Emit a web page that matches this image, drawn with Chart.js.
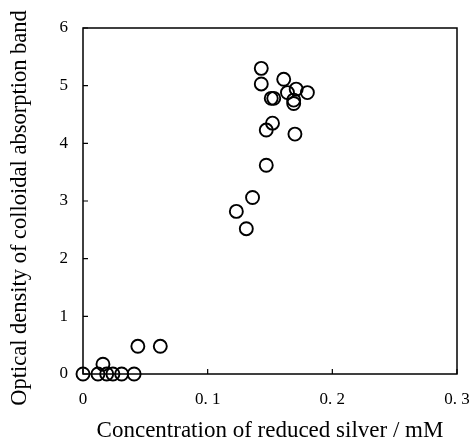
<!DOCTYPE html>
<html>
<head>
<meta charset="utf-8">
<script src="https://cdn.jsdelivr.net/npm/chart.js@4"></script>
<style>
html,body{margin:0;padding:0;background:#fff;}
#wrap{width:472px;height:442px;}
</style>
</head>
<body>
<div id="wrap"><canvas id="c" width="472" height="442"></canvas></div>
<script>
const concentration = [0, 0.012, 0.019, 0.024, 0.031, 0.041, 0.016, 0.044, 0.062, 0.123, 0.131, 0.136, 0.147, 0.147, 0.152, 0.170, 0.143, 0.143, 0.161, 0.151, 0.153, 0.164, 0.171, 0.169, 0.169, 0.180];
const opticalDensity = [0, 0, 0, 0, 0, 0, 0.17, 0.48, 0.48, 2.82, 2.52, 3.06, 3.62, 4.23, 4.35, 4.16, 5.30, 5.03, 5.11, 4.78, 4.78, 4.88, 4.94, 4.75, 4.69, 4.88];
const xTickValues = [0, 0.1, 0.2, 0.3];
const xTickLabels = ['0', '0. 1', '0. 2', '0. 3'];
const yTickValues = [0, 1, 2, 3, 4, 5, 6];
const yTickLabels = ['0', '1', '2', '3', '4', '5', '6'];
const xTitle = 'Concentration of reduced silver / mM';
const yTitle = 'Optical density of colloidal absorption band';

const FONT = '"Liberation Serif", "DejaVu Serif", serif';

const frame = {
  id: 'frame',
  afterDraw(chart) {
    const {ctx, chartArea: a, scales} = chart;
    ctx.save();
    ctx.strokeStyle = '#000';
    ctx.lineWidth = 1.5;
    ctx.strokeRect(a.left, a.top, a.right - a.left, a.bottom - a.top);
    ctx.lineWidth = 1.2;
    ctx.beginPath();
    xTickValues.forEach(v => {
      const px = scales.x.getPixelForValue(v);
      ctx.moveTo(px, a.bottom); ctx.lineTo(px, a.bottom - 5);
    });
    yTickValues.forEach(v => {
      const py = scales.y.getPixelForValue(v);
      ctx.moveTo(a.left, py); ctx.lineTo(a.left + 5, py);
    });
    ctx.stroke();
    // y-axis title (slightly below the plot-area centre, as in the reference)
    ctx.translate(20, 208);
    ctx.rotate(-Math.PI / 2);
    ctx.fillStyle = '#000';
    ctx.font = '22.5px ' + FONT;
    ctx.textAlign = 'center';
    ctx.textBaseline = 'middle';
    ctx.fillText(yTitle, 0, 0);
    ctx.restore();
  }
};

new Chart(document.getElementById('c'), {
  type: 'scatter',
  data: {
    datasets: [{
      data: concentration.map((x, i) => ({x, y: opticalDensity[i]})),
      pointStyle: 'circle',
      pointRadius: 6.5,
      pointBorderWidth: 1.9,
      pointBorderColor: '#000',
      pointBackgroundColor: 'rgba(0,0,0,0)',
      clip: false
    }]
  },
  options: {
    responsive: false,
    animation: false,
    layout: {padding: {left: 0, right: 15, top: 28, bottom: 0}},
    plugins: {legend: {display: false}, tooltip: {enabled: false}},
    scales: {
      x: {
        type: 'linear', min: 0, max: 0.3,
        afterBuildTicks: s => { s.ticks = xTickValues.map(v => ({value: v})); },
        afterFit: s => { s.height = 442 - 374; s.paddingLeft = 0; s.paddingRight = 0; },
        ticks: {
          callback: (v) => xTickLabels[xTickValues.indexOf(+(+v).toFixed(2))],
          color: '#000', font: {family: FONT, size: 17}, padding: 15, maxRotation: 0
        },
        grid: {display: false, drawTicks: false},
        border: {display: false},
        title: {display: true, text: xTitle, color: '#000', font: {family: FONT, size: 23, lineHeight: 1}, padding: {top: 4, bottom: 0}}
      },
      y: {
        type: 'linear', min: 0, max: 6,
        afterBuildTicks: s => { s.ticks = yTickValues.map(v => ({value: v})); },
        afterFit: s => { s.width = 83; s.paddingTop = 0; s.paddingBottom = 0; },
        ticks: {
          callback: (v) => yTickLabels[yTickValues.indexOf(v)],
          color: '#000', font: {family: FONT, size: 17}, padding: 15
        },
        grid: {display: false, drawTicks: false},
        border: {display: false},
        title: {display: false, text: yTitle}
      }
    }
  },
  plugins: [frame]
});
</script>
</body>
</html>
